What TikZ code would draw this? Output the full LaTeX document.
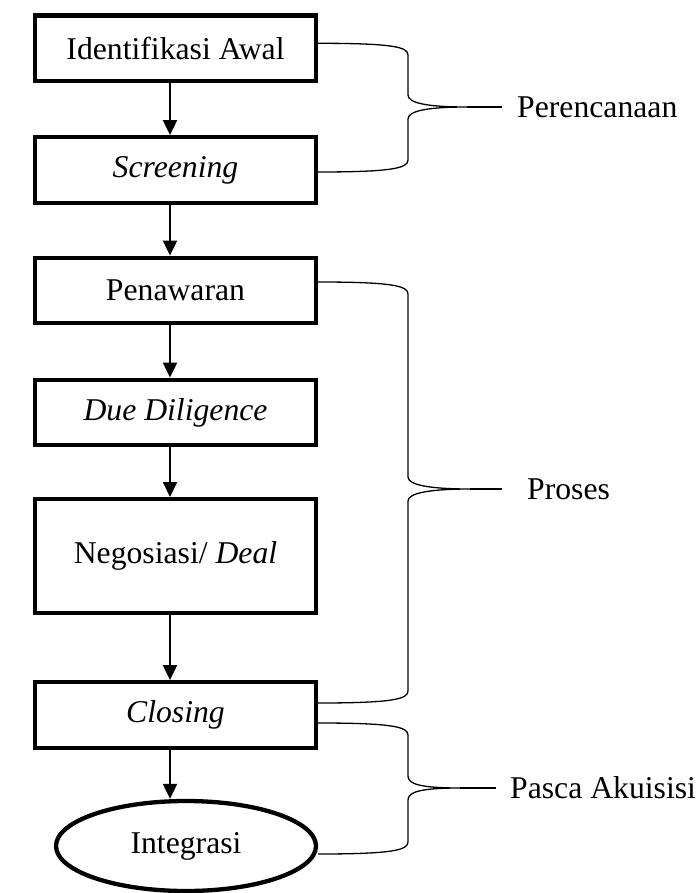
\documentclass[tikz,border=0pt]{standalone}
\usepackage{fontspec}
\setmainfont{Liberation Serif}
\usetikzlibrary{arrows.meta,shapes.geometric,calc}

\begin{document}
\begin{tikzpicture}[x=1pt, y=-1pt,
    font=\fontsize{31.7}{38}\selectfont,
    stage/.style={draw, line width=4.3pt, minimum width=281pt, minimum height=65.5pt, inner sep=0pt},
    arr/.style={-{Triangle[length=15pt, width=14pt]}, line width=2pt},
    brk/.style={line width=1.3pt},
    grp/.style={anchor=west, inner sep=0pt}
  ]
    \useasboundingbox (0,0) rectangle (698,893);

    % Stages
    \node[stage] (ida) at (175.5, 48.3) {Identifikasi Awal};
    \node[stage] (scr) at (175.5, 170)  {\textit{Screening}};
    \node[stage] (pen) at (175.5, 290.5) {Penawaran};
    \node[stage] (dd)  at (175.5, 412.5) {\textit{Due Diligence}};
    \node[stage, minimum height=113.7pt] (neg) at (175.5, 556) {Negosiasi/ \textit{Deal}};
    \node[stage] (clo) at (175.5, 715)  {\textit{Closing}};
    \node[stage, ellipse, minimum width=260pt, minimum height=90pt] (int) at (186, 846) {Integrasi};

    % Flow arrows
    \coordinate (ax) at (170, 0);
    \draw[arr] (ida.south -| ax) -- (scr.north -| ax);
    \draw[arr] (scr.south -| ax) -- (pen.north -| ax);
    \draw[arr] (pen.south -| ax) -- (dd.north -| ax);
    \draw[arr] (dd.south -| ax)  -- (neg.north -| ax);
    \draw[arr] (neg.south -| ax) -- (clo.north -| ax);
    \draw[arr] (clo.south -| ax) -- (int.north -| ax);

    % Group labels
    \node[grp] (per) at (517, 107) {Perencanaan};
    \node[grp] (pro) at (527, 489) {Proses};
    \node[grp] (pas) at (510, 788) {Pasca Akuisisi};

    % Perencanaan bracket
    \coordinate (t1) at (467, 107);
    \draw[brk] ([yshift=5pt]ida.east) .. controls +(75,0) and +(0,-8) .. (408,55) -- (408,95)
      .. controls +(0,8) and +(-40,0) .. (t1)
      .. controls +(-40,0) and +(0,-8) .. (408,119) -- (408,160)
      .. controls +(0,8) and +(75,0) .. ([yshift=-2pt]scr.east);
    \draw[brk] (t1) -- ([xshift=-15pt]per.west);

    % Proses bracket
    \coordinate (t2) at (470, 489);
    \draw[brk] ([yshift=8.5pt]pen.east) .. controls +(75,0) and +(0,-8) .. (408,294) -- (408,477)
      .. controls +(0,8) and +(-40,0) .. (t2)
      .. controls +(-40,0) and +(0,-8) .. (408,501) -- (408,691)
      .. controls +(0,8) and +(75,0) .. ([yshift=12pt]clo.east);
    \draw[brk] (t2) -- ([xshift=-25pt]pro.west);

    % Pasca Akuisisi bracket
    \coordinate (t3) at (460, 788);
    \draw[brk] ([yshift=-8pt]clo.east) .. controls +(75,0) and +(0,-8) .. (408,735) -- (408,776)
      .. controls +(0,8) and +(-40,0) .. (t3)
      .. controls +(-40,0) and +(0,-8) .. (408,800) -- (408,842)
      .. controls +(0,8) and +(75,0) .. ([yshift=-8pt]int.east);
    \draw[brk] (t3) -- ([xshift=-14pt]pas.west);

\end{tikzpicture}
\end{document}
